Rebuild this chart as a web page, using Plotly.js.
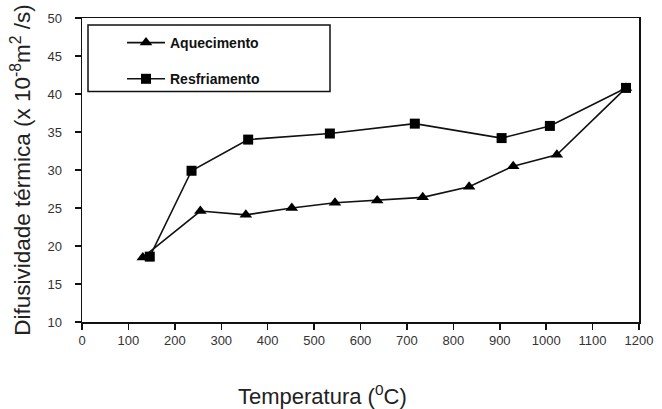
<!DOCTYPE html>
<html>
<head>
<meta charset="utf-8">
<script src="https://cdn.plot.ly/plotly-3.0.1.min.js"></script>
<style>html,body{margin:0;padding:0;background:#fff;}#chart{width:662px;height:409px;}</style>
</head>
<body>
<div id="chart"></div>
<script>
// Aquecimento (heating)
const heatTemp = [131, 255, 353, 452, 545, 636, 734, 834, 929, 1023, 1172];
const heatDiff = [18.5, 24.6, 24.1, 25.0, 25.7, 26.0, 26.4, 27.8, 30.5, 32.0, 40.8];
// Resfriamento (cooling)
const coolTemp = [146, 236, 358, 534, 717, 904, 1008, 1172];
const coolDiff = [18.6, 29.9, 34.0, 34.8, 36.1, 34.2, 35.8, 40.8];

const xTicks = [0,100,200,300,400,500,600,700,800,900,1000,1100,1200];
const yTicks = [10,15,20,25,30,35,40,45,50];

const traces = [
  {x: heatTemp, y: heatDiff, name: 'Aquecimento', mode: 'lines+markers', legendgroup: 'a',
   line: {color: '#111', width: 1.6}, marker: {symbol: 'triangle-up', size: 11, color: '#000'}},
  {x: coolTemp, y: coolDiff, name: 'Resfriamento', mode: 'lines+markers', legendgroup: 'b',
   line: {color: '#111', width: 1.6}, marker: {symbol: 'square', size: 10, color: '#000'}}
];

const layout = {
  width: 662, height: 409,
  margin: {l: 82, r: 23, t: 18, b: 87},
  paper_bgcolor: '#fff', plot_bgcolor: '#fff',
  font: {family: 'Liberation Sans, Arial, sans-serif', color: '#222'},
  xaxis: {range: [0, 1200], tickvals: xTicks, ticktext: xTicks.map(String),
    showgrid: false, zeroline: false, showline: true, mirror: true,
    linecolor: '#111', linewidth: 1.5, ticks: 'outside', ticklen: 6, tickwidth: 1.5, tickcolor: '#111',
    tickfont: {size: 13, color: '#333'}},
  yaxis: {range: [10, 50], tickvals: yTicks, ticktext: yTicks.map(String),
    showgrid: false, zeroline: false, showline: true, mirror: true,
    linecolor: '#111', linewidth: 1.5, ticks: 'outside', ticklen: 6, tickwidth: 1.5, tickcolor: '#111',
    tickfont: {size: 13, color: '#333'}, ticklabelstandoff: 10,
    title: {text: 'Difusividade térmica (x 10<sup>-8</sup>m<sup>2</sup> /s)', font: {size: 22.5, color: '#222'}, standoff: 10}},
  showlegend: true,
  legend: {x: (122-82)/557, xanchor: 'left', y: (322-27)/304, yanchor: 'top',
    bgcolor: 'rgba(0,0,0,0)', borderwidth: 0, traceorder: 'grouped', tracegroupgap: 15,
    itemwidth: 38, font: {size: 14, color: '#111', family: 'Liberation Sans, Arial, sans-serif', weight: 'bold'}},
  shapes: [{type: 'rect', xref: 'paper', yref: 'paper',
    x0: (88-82)/557, x1: (330-82)/557, y0: (322-91.5)/304, y1: (322-25)/304,
    line: {color: '#111', width: 1.5}}],
  annotations: [{text: 'Temperatura (<sup>0</sup>C)', xref: 'paper', yref: 'paper',
    x: (322-82)/557, y: (322-395)/304, xanchor: 'center', yanchor: 'middle', showarrow: false,
    font: {size: 22, color: '#222'}}]
};

Plotly.newPlot('chart', traces, layout, {displayModeBar: false, staticPlot: true});
</script>
</body>
</html>
